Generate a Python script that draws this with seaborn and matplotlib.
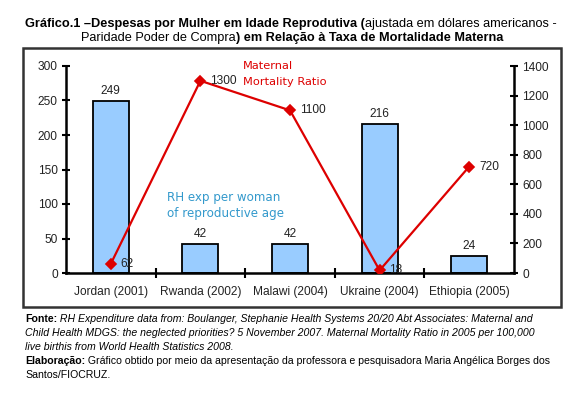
import matplotlib
matplotlib.use("Agg")
import matplotlib.pyplot as plt
import seaborn as sns
import pandas as pd
from matplotlib.patches import Rectangle

categories = ["Jordan (2001)", "Rwanda (2002)", "Malawi (2004)", "Ukraine (2004)", "Ethiopia (2005)"]
rh_exp = [249, 42, 42, 216, 24]
mmr = [62, 1300, 1100, 18, 720]
left_ticks = [0, 50, 100, 150, 200, 250, 300]
right_ticks = [0, 200, 400, 600, 800, 1000, 1200, 1400]

sns.set_theme(style="white")
plt.rcParams["font.family"] = ["Liberation Sans", "DejaVu Sans"]

W, H = 583, 394
fig = plt.figure(figsize=(W / 100, H / 100), dpi=100)
fig.patch.set_facecolor("white")

def fx(px):
    return px / W

def fy(py):
    return 1 - py / H

ax = fig.add_axes([fx(66), fy(273), fx(514) - fx(66), fy(66) - fy(273)])
df = pd.DataFrame({"country": categories, "rh": rh_exp, "mmr": mmr})

sns.barplot(data=df, x="country", y="rh", color="#99CCFF", width=0.4,
            edgecolor="black", linewidth=1.3, saturation=1, ax=ax)
ax.set_ylim(0, 300)
ax.set_xlim(-0.5, 4.5)
ax.set_yticks(left_ticks)
ax.bar_label(ax.containers[0], padding=3, fontsize=8.6, color="#222222")

ax2 = ax.twinx()
sns.pointplot(data=df, x="country", y="mmr", color="#DD0000", markers="D",
              linewidth=1.6, markersize=5, ax=ax2)
ax2.set_ylim(0, 1400)
ax2.set_xlim(-0.5, 4.5)
ax2.set_yticks(right_ticks)
line = ax2.lines[0]
for xv, yv in zip(line.get_xdata(), line.get_ydata()):
    ax2.annotate(f"{int(yv)}", (xv, yv), xytext=(7, 0), textcoords="offset points",
                 va="center", ha="left", fontsize=8.6, color="#222222")

for a in (ax, ax2):
    a.set_xlabel("")
    a.set_ylabel("")
    for s in a.spines.values():
        s.set_visible(False)
    a.grid(False)
ax.set_facecolor("none")
ax.spines["left"].set_visible(True)
ax.spines["bottom"].set_visible(True)
ax2.spines["right"].set_visible(True)
for s in (ax.spines["left"], ax.spines["bottom"], ax2.spines["right"]):
    s.set_linewidth(1.8)
    s.set_color("black")

ax.tick_params(axis="y", direction="inout", length=6, width=1.5, color="black",
               labelsize=8.6, labelcolor="#222222", left=True, pad=3)
ax2.tick_params(axis="y", direction="inout", length=6, width=1.5, color="black",
                labelsize=8.6, labelcolor="#222222", right=True, pad=3)
ax.set_xticks(range(len(categories)))
ax.set_xticklabels(categories)
ax.tick_params(axis="x", which="major", length=0, labelsize=8.6, labelcolor="#222222", pad=9)
ax.set_xticks([0.5, 1.5, 2.5, 3.5], minor=True)
ax.tick_params(axis="x", which="minor", direction="inout", length=7, width=1.5,
               color="black", bottom=True)
ax2.tick_params(axis="x", length=0, labelbottom=False)

fig.text(fx(243), fy(66), "Maternal", color="#DD0000", fontsize=8.2,
         family="DejaVu Sans", va="center", ha="left")
fig.text(fx(243), fy(82), "Mortality Ratio", color="#DD0000", fontsize=8.2,
         family="DejaVu Sans", va="center", ha="left")
fig.text(fx(167), fy(197), "RH exp per woman", color="#3399CC", fontsize=8.6,
         family="DejaVu Sans", va="center", ha="left")
fig.text(fx(167), fy(213), "of reproductive age", color="#3399CC", fontsize=8.6,
         family="DejaVu Sans", va="center", ha="left")

# frame
fig.add_artist(Rectangle((fx(23), fy(307)), fx(561) - fx(23), fy(48) - fy(307),
                         transform=fig.transFigure, fill=False,
                         edgecolor="#333333", linewidth=1.8))

renderer = fig.canvas.get_renderer()
TXT_FAMILY = ["Liberation Sans Narrow", "Liberation Sans", "DejaVu Sans"]

def seg_width(text, **kw):
    t = fig.text(0, 0, text, **kw)
    w = t.get_window_extent(renderer).width
    t.remove()
    return w

def rich_line(segments, y, x=None, center=None, size=8.0):
    widths = []
    for txt, weight, style in segments:
        kw = dict(fontsize=size, fontweight=weight, fontstyle=style, family=TXT_FAMILY)
        w = seg_width("|" + txt + "|", **kw) - seg_width("||", **kw)
        widths.append(w)
    total = sum(widths)
    xs = center - total / 2 if center is not None else x
    for (txt, weight, style), w in zip(segments, widths):
        fig.text(fx(xs), fy(y), txt, fontsize=size, fontweight=weight, fontstyle=style,
                 family=TXT_FAMILY, va="center", ha="left", color="black")
        xs += w

rich_line([("Gráfico.1 –Despesas por Mulher em Idade Reprodutiva (", "bold", "normal"),
           ("ajustada em dólares americanos -", "normal", "normal")], 23.5, center=291, size=9.2)
rich_line([("Paridade Poder de Compra", "normal", "normal"),
           (") em Relação à Taxa de Mortalidade Materna", "bold", "normal")], 38.5, center=292, size=9.2)

fs = 7.6
rich_line([("Fonte:", "bold", "normal"),
           (" RH Expenditure data from: Boulanger, Stephanie Health Systems 20/20 Abt Associates: Maternal and", "normal", "italic")],
          318.5, x=25, size=fs)
rich_line([("Child Health MDGS: the neglected priorities? 5 November 2007. Maternal Mortality Ratio in 2005 per 100,000", "normal", "italic")],
          333, x=25, size=fs)
rich_line([("live birthis from World Health Statistics 2008.", "normal", "italic")], 347, x=25, size=fs)
rich_line([("Elaboração:", "bold", "normal"),
           (" Gráfico obtido por meio da apresentação da professora e pesquisadora Maria Angélica Borges dos", "normal", "normal")],
          360.5, x=25, size=fs)
rich_line([("Santos/FIOCRUZ.", "normal", "normal")], 374.5, x=25, size=fs)

fig.savefig("out.png", dpi=100)
